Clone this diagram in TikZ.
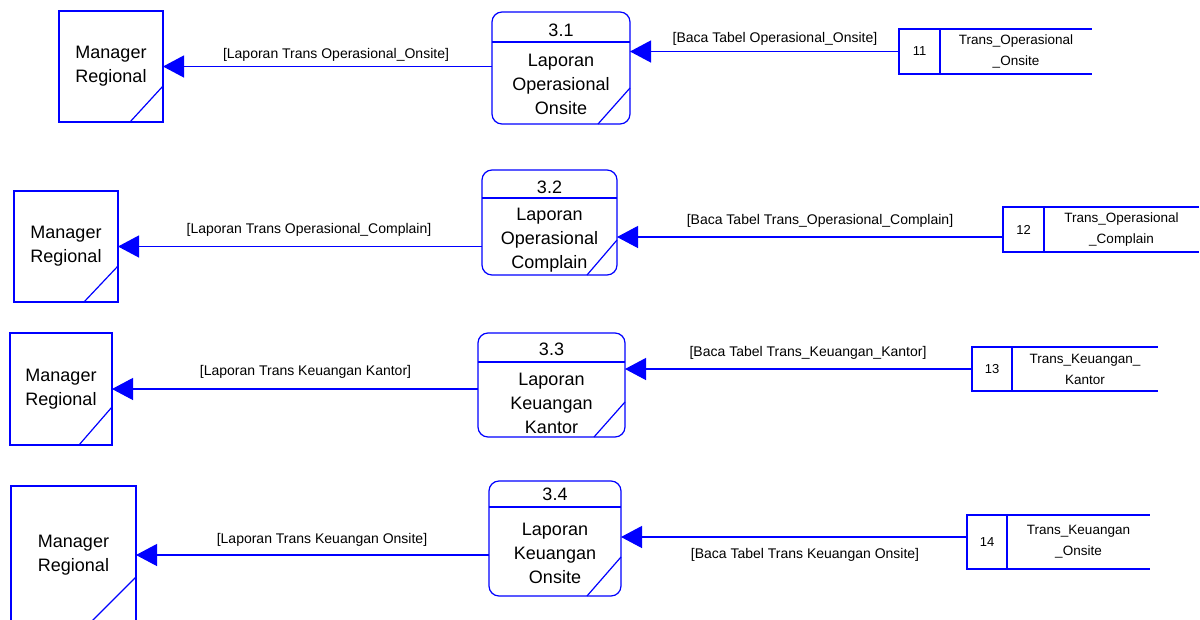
\documentclass[tikz,border=0pt]{standalone}
\usepackage{fontspec}
\setmainfont{Liberation Sans}
\usetikzlibrary{positioning,calc,arrows.meta}
\definecolor{dfdblue}{RGB}{0,0,255}
\tikzset{
  dfdline/.style={draw=dfdblue, line width=1.2pt},
  entity/.style={dfdline, rectangle, outer sep=0pt, inner sep=0pt, align=center, font=\fontsize{18}{24}\selectfont},
  proc/.style={dfdline, rounded corners=10pt, outer sep=0pt, inner sep=0pt},
  proctxt/.style={align=center, inner sep=0pt, font=\fontsize{18}{24}\selectfont},
  storeid/.style={dfdline, outer sep=0pt, inner sep=0pt, font=\fontsize{13}{15}\selectfont},
  storetxt/.style={outer sep=0pt, inner sep=0pt, align=center, font=\fontsize{13.5}{21}\selectfont},
  flowlbl/.style={anchor=base, inner sep=0pt, font=\fontsize{14}{16}\selectfont},
}
\begin{document}
\begin{tikzpicture}[x=1pt, y=-1pt, >={Triangle[length=21pt,width=22pt]}]
  \useasboundingbox (0,0) rectangle (1200,619);

  \node[entity, minimum width=104, minimum height=111] (m1) at (111,66.5) {Manager\\Regional};
  \node[proc, minimum width=138, minimum height=112] (p1) at (561,68) {};
  \node[proctxt] (p1id) at (561,30.5) {3.1};
  \node[proctxt] (p1txt) at (561,84) {Laporan\\Operasional\\Onsite};
  \node[storeid, minimum width=41, minimum height=45] (s1id) at (919.5,51.5) {11};
  \node[storetxt, minimum width=152, minimum height=45, right=0pt of s1id] (s1) {Trans\_Operasional\\\_Onsite};
  \draw[dfdline] (p1.west |- 0,42) -- (p1.east |- 0,42);
  \draw[dfdline] (s1.north west) -- (s1.north east) (s1.south west) -- (s1.south east);
  \draw[dfdline] ($(m1.south east)+(-33,0)$) -- ($(m1.south east)+(0,-36)$);
  \draw[dfdline] ($(p1.south east)+(-32,0)$) -- ($(p1.south east)+(0,-36)$);
  \draw[dfdline,->] (p1.west |- m1.east) -- (m1.east);
  \draw[dfdline,->] (s1id.west) -- (p1.east |- s1id.west);
  \node[flowlbl] (f1a) at (336,58) {[Laporan Trans Operasional\_Onsite]};
  \node[flowlbl] (f1b) at (775,42) {[Baca Tabel Operasional\_Onsite]};

  \node[entity, minimum width=104, minimum height=111] (m2) at (66,246.5) {Manager\\Regional};
  \node[proc, minimum width=135, minimum height=105] (p2) at (549.5,222.5) {};
  \node[proctxt] (p2id) at (549.5,187) {3.2};
  \node[proctxt] (p2txt) at (549.5,240) {Laporan\\Operasional\\Complain};
  \node[storeid, minimum width=41, minimum height=45] (s2id) at (1023.5,229.5) {12};
  \node[storetxt, minimum width=155, minimum height=45, right=0pt of s2id] (s2) {Trans\_Operasional\\\_Complain};
  \coordinate (c2) at (1003,237);
  \draw[dfdline] (p2.west |- 0,198) -- (p2.east |- 0,198);
  \draw[dfdline] (s2.north west) -- (s2.north east) (s2.south west) -- (s2.south east);
  \draw[dfdline] ($(m2.south east)+(-34,0)$) -- ($(m2.south east)+(0,-36)$);
  \draw[dfdline] ($(p2.south east)+(-30,0)$) -- ($(p2.south east)+(0,-35)$);
  \draw[dfdline,->] (p2.west |- m2.east) -- (m2.east);
  \draw[dfdline,->] (c2) -- (p2.east |- c2);
  \node[flowlbl] (f2a) at (309,233) {[Laporan Trans Operasional\_Complain]};
  \node[flowlbl] (f2b) at (820,224) {[Baca Tabel Trans\_Operasional\_Complain]};

  \node[entity, minimum width=102, minimum height=112] (m3) at (61,389) {Manager\\Regional};
  \node[proc, minimum width=147, minimum height=104] (p3) at (551.5,385) {};
  \node[proctxt] (p3id) at (551.5,349) {3.3};
  \node[proctxt] (p3txt) at (551.5,403) {Laporan\\Keuangan\\Kantor};
  \node[storeid, minimum width=40, minimum height=44] (s3id) at (992,369) {13};
  \node[storetxt, minimum width=146, minimum height=44, right=0pt of s3id] (s3) {Trans\_Keuangan\_\\Kantor};
  \draw[dfdline] (p3.west |- 0,362) -- (p3.east |- 0,362);
  \draw[dfdline] (s3.north west) -- (s3.north east) (s3.south west) -- (s3.south east);
  \draw[dfdline] ($(m3.south east)+(-33,0)$) -- ($(m3.south east)+(0,-38)$);
  \draw[dfdline] ($(p3.south east)+(-31,0)$) -- ($(p3.south east)+(0,-35)$);
  \draw[dfdline,->] (p3.west |- m3.east) -- (m3.east);
  \draw[dfdline,->] (s3id.west) -- (p3.east |- s3id.west);
  \node[flowlbl] (f3a) at (305.5,375) {[Laporan Trans Keuangan Kantor]};
  \node[flowlbl] (f3b) at (808,356) {[Baca Tabel Trans\_Keuangan\_Kantor]};

  \node[entity, minimum width=125, minimum height=138] (m4) at (73.5,555) {Manager\\Regional};
  \node[proc, minimum width=132, minimum height=115] (p4) at (555,538.5) {};
  \node[proctxt] (p4id) at (555,494.5) {3.4};
  \node[proctxt] (p4txt) at (555,553) {Laporan\\Keuangan\\Onsite};
  \node[storeid, minimum width=40, minimum height=54] (s4id) at (987,542) {14};
  \node[storetxt, minimum width=143, minimum height=54, right=0pt of s4id] (s4) {Trans\_Keuangan\\\_Onsite};
  \coordinate (c4) at (967,537);
  \draw[dfdline] (p4.west |- 0,507) -- (p4.east |- 0,507);
  \draw[dfdline] (s4.north west) -- (s4.north east) (s4.south west) -- (s4.south east);
  \draw[dfdline] ($(m4.south east)+(-47,0)$) -- ($(m4.south east)+(0,-47)$);
  \draw[dfdline] ($(p4.south east)+(-34,0)$) -- ($(p4.south east)+(0,-39)$);
  \draw[dfdline,->] (p4.west |- m4.east) -- (m4.east);
  \draw[dfdline,->] (c4) -- (p4.east |- c4);
  \node[flowlbl] (f4a) at (322,543) {[Laporan Trans Keuangan Onsite]};
  \node[flowlbl] (f4b) at (805,558) {[Baca Tabel Trans Keuangan Onsite]};
\end{tikzpicture}
\end{document}
